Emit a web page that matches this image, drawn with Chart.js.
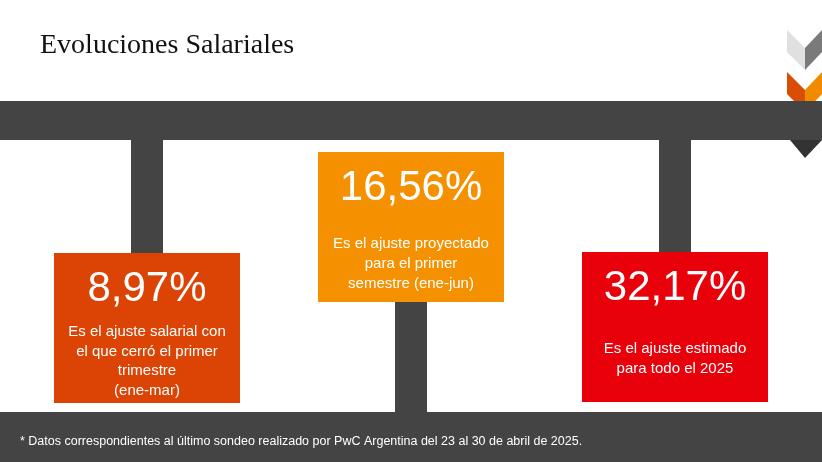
<!DOCTYPE html>
<html><head><meta charset="utf-8">
<script src="https://cdn.jsdelivr.net/npm/chart.js@4/dist/chart.umd.min.js"></script>
<style>html,body{margin:0;padding:0;background:#fff;overflow:hidden}#wrap{width:822px;height:462px;position:relative}</style>
</head><body><div id="wrap"><canvas id="c" width="822" height="462"></canvas></div>
<script>
const categories = ['ene-mar', 'ene-jun', '2025'];
const percents = ['8,97%', '16,56%', '32,17%'];
const descriptions = [
  ['Es el ajuste salarial con', 'el que cerró el primer', 'trimestre', '(ene-mar)'],
  ['Es el ajuste proyectado', 'para el primer', 'semestre (ene-jun)'],
  ['Es el ajuste estimado', 'para todo el 2025']
];
const boxRanges = [[253, 403], [152, 302], [252, 402]];
const stemRanges = [[140, 253], [302, 412], [140, 252]];
const boxColors = ['#dc4405', '#f59100', '#e8000b'];
const footnote = '* Datos correspondientes al último sondeo realizado por PwC Argentina del 23 al 30 de abril de 2025.';

const backdrop = {
  id: 'backdrop',
  beforeDatasetsDraw(chart) {
    const c = chart.ctx;
    c.save();
    c.fillStyle = '#fff'; c.fillRect(0, 0, 822, 462);
    c.fillStyle = '#111'; c.font = '28px "Liberation Serif", serif';
    c.textBaseline = 'alphabetic'; c.fillText('Evoluciones Salariales', 40, 53);
    // logo chevrons
    const chev = (y, l, r) => {
      c.fillStyle = l; c.beginPath(); c.moveTo(787, y); c.lineTo(805, y + 18); c.lineTo(805, y + 40); c.lineTo(787, y + 22); c.fill();
      c.fillStyle = r; c.beginPath(); c.moveTo(822, y); c.lineTo(805, y + 18); c.lineTo(805, y + 40); c.lineTo(822, y + 22); c.fill();
    };
    chev(30, '#e0e0e0', '#7a7a7a');
    chev(72, '#d94d05', '#f28a00');
    c.fillStyle = '#444'; c.fillRect(0, 101, 822, 39);
    c.fillStyle = '#333'; c.beginPath(); c.moveTo(790, 140); c.lineTo(822, 140); c.lineTo(805, 158); c.fill();
    c.fillStyle = '#444'; c.fillRect(0, 412, 822, 50);
    c.fillStyle = '#fff'; c.font = '12.5px "Liberation Sans", Arial, sans-serif';
    c.fillText(footnote, 20, 445);
    c.restore();
  }
};

const labels = {
  id: 'labels',
  afterDatasetsDraw(chart) {
    const c = chart.ctx;
    const meta = chart.getDatasetMeta(1);
    c.save(); c.fillStyle = '#fff'; c.textAlign = 'center'; c.textBaseline = 'middle';
    meta.data.forEach((bar, i) => {
      const top = Math.min(bar.y, bar.base);
      c.font = '42px "Liberation Sans", Arial, sans-serif';
      c.fillText(percents[i], bar.x, top + 36);
      c.font = '15px "Liberation Sans", Arial, sans-serif';
      const lines = descriptions[i];
      const start = [top + 79, top + 92, top + 97][i];
      const step = i === 0 ? 19.5 : 20;
      lines.forEach((t, j) => c.fillText(t, bar.x, start + j * step));
    });
    c.restore();
  }
};

new Chart(document.getElementById('c'), {
  type: 'bar',
  data: {
    labels: categories,
    datasets: [
      { data: stemRanges, backgroundColor: '#444', categoryPercentage: 32 / 264, barPercentage: 1, grouped: false, order: 2 },
      { data: boxRanges, backgroundColor: boxColors, categoryPercentage: 186 / 264, barPercentage: 1, grouped: false, order: 1 }
    ]
  },
  options: {
    responsive: false, animation: false, devicePixelRatio: 1,
    layout: { padding: { left: 15, right: 15, top: 0, bottom: 0 } },
    plugins: { legend: { display: false }, tooltip: { enabled: false } },
    scales: {
      x: { display: false },
      y: { display: false, min: 0, max: 462, reverse: true }
    }
  },
  plugins: [backdrop, labels]
});
</script>
</body></html>
